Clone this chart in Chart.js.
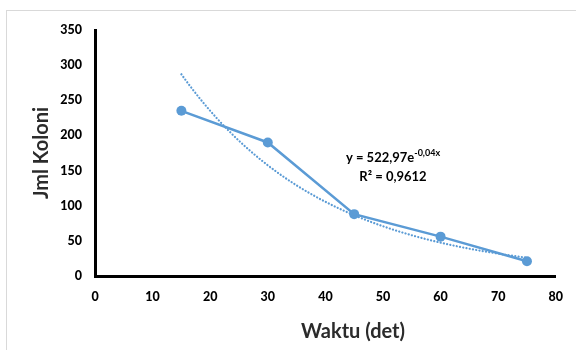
<!DOCTYPE html>
<html>
<head>
<meta charset="utf-8">
<script src="https://cdn.jsdelivr.net/npm/chart.js@4.4.1/dist/chart.umd.min.js"></script>
<style>
  html, body { margin: 0; padding: 0; background: #ffffff; }
  #wrap { position: relative; width: 576px; height: 350px; }
</style>
</head>
<body>
<div id="wrap"><canvas id="chart" width="576" height="350"></canvas></div>
<script>
// Colony counts over time
const waktu = [15, 30, 45, 60, 75];
const koloni = [235, 190, 88, 56, 21];

// Exponential trendline y = a * e^(b x), coefficients as printed on the chart
const trendA = 522.97;
const trendB = -0.04;
const trendFrom = 15;
const trendTo = 75;

const xTicks = [0, 10, 20, 30, 40, 50, 60, 70, 80];
const yTicks = [0, 50, 100, 150, 200, 250, 300, 350];

const xTitle = 'Waktu (det)';
const yTitle = 'Jml Koloni';
const eqMain = 'y = 522,97e';
const eqSup = '-0,04x';
const eqR2 = 'R² = 0,9612';

const blue = '#5B9BD5';
const FONT = 'Lato, "Open Sans", sans-serif';

const trendPoints = [];
for (let x = trendFrom; x <= trendTo; x += 1) {
  trendPoints.push({ x: x, y: trendA * Math.exp(trendB * x) });
}
const seriesPoints = waktu.map((x, i) => ({ x: x, y: koloni[i] }));

const decorations = {
  id: 'decorations',
  beforeDraw(chart) {
    const ctx = chart.ctx;
    ctx.save();
    ctx.strokeStyle = '#d9d9d9';
    ctx.lineWidth = 1;
    ctx.strokeRect(6.5, 10.5, 620, 400);
    ctx.restore();
  },
  afterDraw(chart) {
    const ctx = chart.ctx;
    const area = chart.chartArea;
    ctx.save();
    ctx.fillStyle = '#2b2b2b';
    ctx.font = 'bold 20px ' + FONT;
    ctx.textAlign = 'center';
    ctx.textBaseline = 'middle';
    // y axis title
    ctx.save();
    ctx.translate(42, (area.top + area.bottom) / 2);
    ctx.rotate(-Math.PI / 2);
    ctx.fillText(yTitle, 0, 0);
    ctx.restore();
    // x axis title
    ctx.fillText(xTitle, 353, 332);

    // trendline equation
    ctx.fillStyle = '#000000';
    ctx.font = 'bold 13px ' + FONT;
    const wMain = ctx.measureText(eqMain).width;
    ctx.font = 'bold 9px ' + FONT;
    const wSup = ctx.measureText(eqSup).width;
    const cx = 393;
    const left = cx - (wMain + wSup) / 2;
    ctx.textAlign = 'left';
    ctx.font = 'bold 13px ' + FONT;
    ctx.fillText(eqMain, left, 158);
    ctx.font = 'bold 9px ' + FONT;
    ctx.fillText(eqSup, left + wMain, 153);
    ctx.textAlign = 'center';
    ctx.font = 'bold 13px ' + FONT;
    ctx.fillText(eqR2, cx, 177);
    ctx.restore();
  }
};

new Chart(document.getElementById('chart'), {
  type: 'scatter',
  data: {
    datasets: [
      {
        label: 'Trendline',
        data: trendPoints,
        showLine: true,
        borderColor: blue,
        borderWidth: 2.2,
        borderDash: [0.1, 3.2],
        borderCapStyle: 'round',
        pointRadius: 0,
        fill: false,
        tension: 0
      },
      {
        label: 'Jml Koloni',
        data: seriesPoints,
        showLine: true,
        borderColor: blue,
        backgroundColor: blue,
        borderWidth: 2.5,
        pointRadius: 5,
        pointBackgroundColor: blue,
        pointBorderColor: blue,
        pointBorderWidth: 0,
        fill: false,
        tension: 0
      }
    ]
  },
  options: {
    responsive: false,
    animation: false,
    layout: { padding: { left: 0, right: 18, top: 30, bottom: 0 } },
    plugins: {
      legend: { display: false },
      tooltip: { enabled: false }
    },
    scales: {
      x: {
        type: 'linear',
        min: 0,
        max: 80,
        afterBuildTicks(scale) { scale.ticks = xTicks.map(v => ({ value: v })); },
        afterFit(scale) { scale.height = 74; },
        grid: { display: false, drawTicks: false },
        border: { display: true, color: '#000000', width: 3 },
        ticks: {
          padding: 13,
          color: '#000000',
          font: { family: FONT, size: 12.5, weight: '900' }
        }
      },
      y: {
        type: 'linear',
        min: 0,
        max: 350,
        afterBuildTicks(scale) { scale.ticks = yTicks.map(v => ({ value: v })); },
        afterFit(scale) { scale.width = 95; },
        grid: { display: false, drawTicks: false },
        border: { display: true, color: '#000000', width: 3 },
        ticks: {
          padding: 13,
          color: '#000000',
          font: { family: FONT, size: 12.5, weight: '900' }
        }
      }
    }
  },
  plugins: [decorations]
});
</script>
</body>
</html>
